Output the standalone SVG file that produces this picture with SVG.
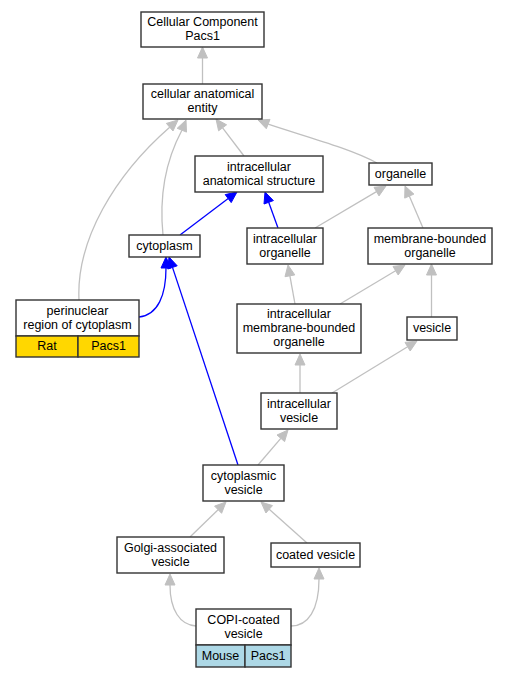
<svg xmlns="http://www.w3.org/2000/svg" width="507" height="677" viewBox="0 0 507 677">
<style>
.n rect{fill:#fff;stroke:#333;stroke-width:1.4}
.n rect.gold{fill:#ffd700}
.n rect.blue{fill:#add8e6}
text{font-family:"Liberation Sans",Arial,sans-serif;font-size:12.5px;fill:#000;text-anchor:middle}
.g{fill:none;stroke:#c0c0c0;stroke-width:1.3}
.b{fill:none;stroke:#0000ff;stroke-width:1.3}
.ga{fill:#c0c0c0;stroke:#c0c0c0;stroke-width:1}
.ba{fill:#0000ff;stroke:#0000ff;stroke-width:1}
</style>
<rect x="0" y="0" width="507" height="677" fill="#fff"/>
<g id="edges">
<path class="g" d="M202.5,84 L202.5,58"/><polygon class="ga" points="202.5,47 207.5,58 197.5,58"/>
<path class="g" d="M244,156 L222.6,127.8"/><polygon class="ga" points="216,119 226.6,124.8 218.6,130.8"/>
<path class="g" d="M377,163 C350,148 300,135 268.2,124.1"/><polygon class="ga" points="258,120 266.3,128.7 270,119.4"/>
<path class="g" d="M163,235 C159,195 166,160 181.9,130.2"/><polygon class="ga" points="186,120 186.5,132.1 177.2,128.3"/>
<path class="g" d="M79,300 C76,240 115,175 169.7,127.2"/><polygon class="ga" points="178,120 173,131 166.4,123.4"/>
<path class="b" d="M180,235 L228.2,198.6"/><polygon class="ba" points="237,192 231.2,202.6 225.2,194.6"/>
<path class="b" d="M278,228 L268.7,202.3"/><polygon class="ba" points="265,192 273.4,200.6 264,204"/>
<path class="g" d="M315,228 L376.5,191.6"/><polygon class="ga" points="386,186 379,195.9 374,187.3"/>
<path class="g" d="M423,228 L409.3,196.1"/><polygon class="ga" points="405,186 413.9,194.1 404.7,198.1"/>
<path class="b" d="M139,317 C158,315 166,295 166,268"/><polygon class="ba" points="166,257 171,268 161,268"/>
<path class="b" d="M238,465 L172.5,267.4"/><polygon class="ba" points="169,257 177.2,265.8 167.8,269"/>
<path class="g" d="M295,304 L289.9,275.8"/><polygon class="ga" points="288,265 294.8,274.9 285,276.7"/>
<path class="g" d="M340,304 L395.6,270.7"/><polygon class="ga" points="405,265 398.2,275 393,266.4"/>
<path class="g" d="M431.5,317 L431.5,275"/><polygon class="ga" points="431.5,264 436.5,275 426.5,275"/>
<path class="g" d="M300,393 L300,365"/><polygon class="ga" points="300,354 305,365 295,365"/>
<path class="g" d="M332,393 L407.6,346.7"/><polygon class="ga" points="417,341 410.2,351 405,342.4"/>
<path class="g" d="M258,465 L280.8,438.3"/><polygon class="ga" points="288,430 284.6,441.6 277,435"/>
<path class="g" d="M190,537 L218.1,509.7"/><polygon class="ga" points="226,502 221.6,513.3 214.6,506.1"/>
<path class="g" d="M307,543 L269.2,509.3"/><polygon class="ga" points="261,502 272.5,505.6 265.9,513"/>
<path class="g" d="M196,626 C180,625 170,610 170,585"/><polygon class="ga" points="170,574 175,585 165,585"/>
<path class="g" d="M291,626 C308,626 319,610 319,579"/><polygon class="ga" points="319,568 324,579 314,579"/>
</g>
<g id="n_cc" class="n"><rect x="141" y="12" width="123" height="35"/><text x="202.5" y="26">Cellular Component</text><text x="202.5" y="40">Pacs1</text></g>
<g id="n_cae" class="n"><rect x="143" y="84" width="119" height="35"/><text x="202.5" y="98">cellular anatomical</text><text x="202.5" y="112">entity</text></g>
<g id="n_ias" class="n"><rect x="195" y="156" width="128" height="36"/><text x="259" y="170.5">intracellular</text><text x="259" y="184.5">anatomical structure</text></g>
<g id="n_org" class="n"><rect x="369" y="163" width="63" height="22"/><text x="400.5" y="177.5">organelle</text></g>
<g id="n_cyt" class="n"><rect x="129" y="235" width="71" height="22"/><text x="164.5" y="249.5">cytoplasm</text></g>
<g id="n_io" class="n"><rect x="247" y="228" width="76" height="36"/><text x="285" y="242.5">intracellular</text><text x="285" y="256.5">organelle</text></g>
<g id="n_mbo" class="n"><rect x="368" y="228" width="124" height="36"/><text x="430" y="242.5">membrane-bounded</text><text x="430" y="256.5">organelle</text></g>
<g id="n_peri" class="n"><rect x="16" y="300" width="123" height="36"/><text x="77.5" y="314.5">perinuclear</text><text x="77.5" y="328.5">region of cytoplasm</text><rect class="gold" x="16" y="336" width="62" height="21"/><rect class="gold" x="78" y="336" width="61" height="21"/><text x="47" y="349.5">Rat</text><text x="108.5" y="349.5">Pacs1</text></g>
<g id="n_imbo" class="n"><rect x="237" y="304" width="124" height="49"/><text x="299" y="318">intracellular</text><text x="299" y="332">membrane-bounded</text><text x="299" y="346">organelle</text></g>
<g id="n_ves" class="n"><rect x="407" y="317" width="50" height="23"/><text x="432" y="332">vesicle</text></g>
<g id="n_iv" class="n"><rect x="261" y="393" width="76" height="36"/><text x="299" y="407.5">intracellular</text><text x="299" y="421.5">vesicle</text></g>
<g id="n_cv" class="n"><rect x="203" y="465" width="81" height="36"/><text x="243.5" y="479.5">cytoplasmic</text><text x="243.5" y="493.5">vesicle</text></g>
<g id="n_gav" class="n"><rect x="117" y="537" width="107" height="36"/><text x="170.5" y="551.5">Golgi-associated</text><text x="170.5" y="565.5">vesicle</text></g>
<g id="n_coat" class="n"><rect x="271" y="543" width="89" height="24"/><text x="315.5" y="558.5">coated vesicle</text></g>
<g id="n_copi" class="n"><rect x="196" y="609" width="95" height="36"/><text x="243.5" y="623.5">COPI-coated</text><text x="243.5" y="637.5">vesicle</text><rect class="blue" x="196" y="645" width="49" height="22"/><rect class="blue" x="245" y="645" width="46" height="22"/><text x="220.5" y="659.5">Mouse</text><text x="268" y="659.5">Pacs1</text></g>
</svg>
